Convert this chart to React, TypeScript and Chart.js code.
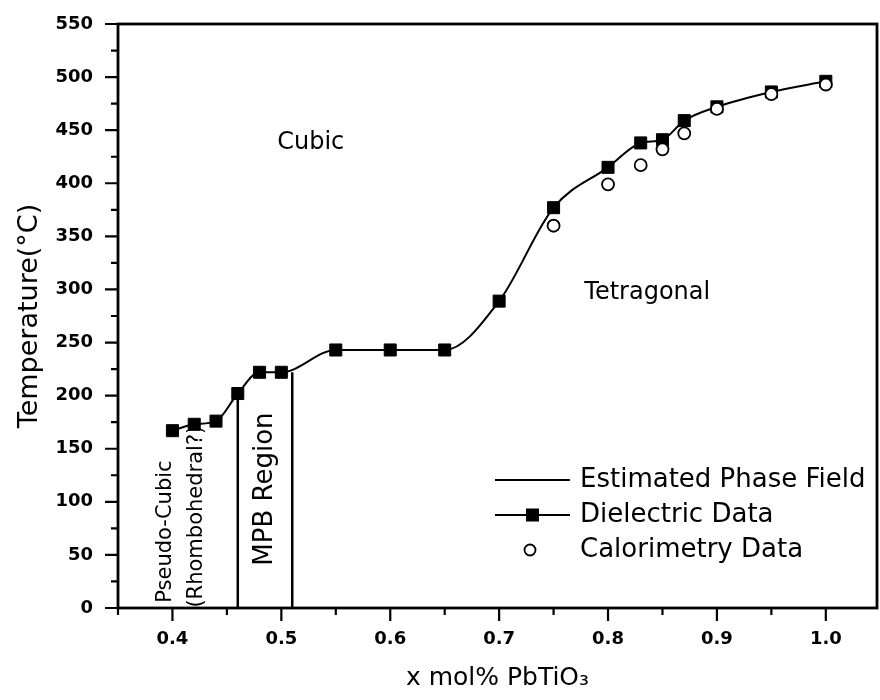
import React, { useEffect, useRef } from "react";
import { Chart, registerables } from "chart.js";

Chart.register(...registerables);

// ---- data ----
const xTickValues = [0.4, 0.5, 0.6, 0.7, 0.8, 0.9, 1.0];
const xTickLabels = ["0.4", "0.5", "0.6", "0.7", "0.8", "0.9", "1.0"];
const xMinorTicks = [0.35, 0.45, 0.55, 0.65, 0.75, 0.85, 0.95];
const yTickValues = [0, 50, 100, 150, 200, 250, 300, 350, 400, 450, 500, 550];
const yMinorTicks = [25, 75, 125, 175, 225, 275, 325, 375, 425, 475, 525];

const dielectricX = [0.40, 0.42, 0.44, 0.46, 0.48, 0.50, 0.55, 0.60, 0.65, 0.70, 0.75, 0.80, 0.83, 0.85, 0.87, 0.90, 0.95, 1.00];
const dielectricT = [167, 173, 176, 202, 222, 222, 243, 243, 243, 289, 377, 415, 438, 441, 459, 472, 486, 496];

const calorimetryX = [0.75, 0.80, 0.83, 0.85, 0.87, 0.90, 0.95, 1.00];
const calorimetryT = [360, 399, 417, 432, 447, 470, 484, 493];

const phaseBoundaryX = [0.46, 0.51];
const phaseBoundaryTop = [202, 222];

const seriesNames = ["Estimated Phase Field", "Dielectric Data", "Calorimetry Data"];
const regionTexts = ["Cubic", "Tetragonal", "MPB Region", "Pseudo-Cubic", "(Rhombohedral?)"];

const xTitle = "x mol% PbTiO\u2083";
const yTitle = "Temperature(\u00B0C)";

// ---- layout / style ----
const W = 880;
const H = 700;
const FONT = "'DejaVu Sans', 'Liberation Sans', Arial, sans-serif";
const regionPlacement = [
  { x: 0.527, y: 438, rot: 0, size: 24 },
  { x: 0.836, y: 297, rot: 0, size: 24 },
  { x: 0.485, y: 112, rot: -90, size: 26 },
  { x: 0.3934, y: 72, rot: -90, size: 21 },
  { x: 0.4224, y: 86, rot: -90, size: 21 },
];

const decorPlugin = {
  id: "decor",
  afterDatasetsDraw(chart: any) {
    const ctx = chart.ctx as CanvasRenderingContext2D;
    const { left, right, top, bottom } = chart.chartArea;
    const xs = chart.scales.x;
    const ys = chart.scales.y;
    ctx.save();
    ctx.strokeStyle = "#000";
    ctx.fillStyle = "#000";

    // frame
    ctx.lineWidth = 2.8;
    ctx.strokeRect(left, top, right - left, bottom - top);

    // ticks (outward)
    ctx.lineWidth = 2.2;
    ctx.beginPath();
    xTickValues.forEach((v) => {
      const px = xs.getPixelForValue(v);
      ctx.moveTo(px, bottom);
      ctx.lineTo(px, bottom + 13);
    });
    xMinorTicks.forEach((v) => {
      const px = xs.getPixelForValue(v);
      ctx.moveTo(px, bottom);
      ctx.lineTo(px, bottom + 7);
    });
    yTickValues.forEach((v) => {
      const py = ys.getPixelForValue(v);
      ctx.moveTo(left, py);
      ctx.lineTo(left - 13, py);
    });
    yMinorTicks.forEach((v) => {
      const py = ys.getPixelForValue(v);
      ctx.moveTo(left, py);
      ctx.lineTo(left - 7, py);
    });
    ctx.stroke();

    // region labels
    regionTexts.forEach((t, i) => {
      const p = regionPlacement[i];
      const px = xs.getPixelForValue(p.x);
      const py = ys.getPixelForValue(p.y);
      ctx.save();
      ctx.translate(px, py);
      ctx.rotate((p.rot * Math.PI) / 180);
      ctx.font = `${p.size}px ${FONT}`;
      ctx.textAlign = "center";
      ctx.textBaseline = "middle";
      ctx.fillText(t, 0, 0);
      ctx.restore();
    });

    // legend
    const ds = chart.data.datasets;
    const lx0 = 495, lx1 = 570, ltx = 580;
    const rows = [480, 515, 550];
    ctx.font = `26px ${FONT}`;
    ctx.textAlign = "left";
    ctx.textBaseline = "middle";
    ctx.lineWidth = 2;
    ctx.beginPath();
    ctx.moveTo(lx0, rows[0]);
    ctx.lineTo(lx1, rows[0]);
    ctx.stroke();
    ctx.fillText(ds[0].label, ltx, rows[0]);
    ctx.lineWidth = 1.8;
    ctx.beginPath();
    ctx.moveTo(lx0, rows[1]);
    ctx.lineTo(lx1, rows[1]);
    ctx.stroke();
    ctx.fillRect((lx0 + lx1) / 2 - 6.5, rows[1] - 6.5, 13, 13);
    ctx.fillText(ds[2].label, ltx, rows[1]);
    ctx.lineWidth = 1.8;
    ctx.beginPath();
    ctx.arc(530, rows[2], 5.5, 0, Math.PI * 2);
    ctx.fillStyle = "#fff";
    ctx.fill();
    ctx.stroke();
    ctx.fillStyle = "#000";
    ctx.fillText(ds[3].label, ltx, rows[2]);

    ctx.restore();
  },
};

export default function App() {
  const canvasRef = useRef<HTMLCanvasElement | null>(null);

  useEffect(() => {
    if (!canvasRef.current) return;
    const phaseSets = phaseBoundaryX.map((x, i) => ({
      label: seriesNames[0],
      data: [
        { x, y: 0 },
        { x, y: phaseBoundaryTop[i] },
      ],
      showLine: true,
      borderColor: "#000",
      borderWidth: 2.5,
      pointRadius: 0,
      order: 3,
    }));

    const chart = new Chart(canvasRef.current, {
      type: "scatter",
      data: {
        datasets: [
          phaseSets[0],
          phaseSets[1],
          {
            label: seriesNames[1],
            data: dielectricX.map((x, i) => ({ x, y: dielectricT[i] })),
            showLine: true,
            cubicInterpolationMode: "monotone",
            borderColor: "#000",
            borderWidth: 2,
            pointStyle: "rect",
            pointRadius: 8.5,
            pointBackgroundColor: "#000",
            pointBorderColor: "#000",
            pointBorderWidth: 1,
            order: 2,
          },
          {
            label: seriesNames[2],
            data: calorimetryX.map((x, i) => ({ x, y: calorimetryT[i] })),
            showLine: false,
            pointStyle: "circle",
            pointRadius: 6,
            pointBackgroundColor: "#fff",
            pointBorderColor: "#000",
            pointBorderWidth: 1.8,
            order: 1,
          },
        ] as any,
      },
      options: {
        responsive: false,
        animation: false,
        devicePixelRatio: 1,
        layout: { autoPadding: false, padding: { left: 0, right: 3, top: 24, bottom: 0 } },
        plugins: {
          legend: { display: false },
          tooltip: { enabled: false },
        },
        scales: {
          x: {
            type: "linear",
            min: 0.35,
            max: 1.047,
            afterBuildTicks: (scale: any) => {
              scale.ticks = xTickValues.map((v) => ({ value: v }));
            },
            afterFit: (scale: any) => {
              scale.height = 92;
              scale.paddingLeft = 0;
              scale.paddingRight = 0;
            },
            grid: { display: false, drawTicks: false },
            border: { display: false },
            ticks: {
              padding: 21,
              color: "#000",
              font: { family: FONT, size: 18, weight: "bold" },
              callback: (v: any) => {
                const idx = xTickValues.findIndex((t) => Math.abs(t - v) < 1e-6);
                return idx >= 0 ? xTickLabels[idx] : "";
              },
            },
            title: {
              display: true,
              text: xTitle,
              color: "#000",
              font: { family: FONT, size: 25 },
              padding: { top: 0, bottom: 7 },
            },
          },
          y: {
            type: "linear",
            min: 0,
            max: 550,
            afterBuildTicks: (scale: any) => {
              scale.ticks = yTickValues.map((v) => ({ value: v }));
            },
            afterFit: (scale: any) => {
              scale.width = 118;
              scale.paddingTop = 0;
              scale.paddingBottom = 0;
            },
            grid: { display: false, drawTicks: false },
            border: { display: false },
            ticks: {
              padding: 25,
              color: "#000",
              font: { family: FONT, size: 18, weight: "bold" },
              callback: (v: any) => String(v),
            },
            title: {
              display: true,
              text: yTitle,
              color: "#000",
              font: { family: FONT, size: 27 },
              padding: { top: 14, bottom: 0 },
            },
          },
        },
      } as any,
      plugins: [decorPlugin],
    });
    return () => chart.destroy();
  }, []);

  return (
    <div style={{ position: "fixed", left: 0, top: 0, width: W, height: H, background: "#fff" }}>
      <canvas ref={canvasRef} width={W} height={H} style={{ display: "block" }} />
    </div>
  );
}
